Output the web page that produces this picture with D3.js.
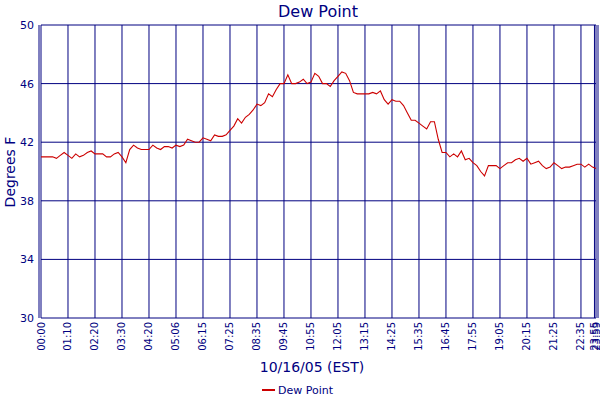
<!DOCTYPE html>
<html><head><meta charset="utf-8">
<script src="https://cdn.jsdelivr.net/npm/d3@7"></script>
<style>body{margin:0;background:#fff}</style>
</head><body><svg width="600" height="400"></svg>
<script>
// dew point readings every 10 minutes (deg F), last one at 23:59
var dewPoint = [
  41.0,41.0,41.0,41.0,40.9,41.1, 41.3,41.1,40.9,41.2,41.0,41.1,
  41.3,41.4,41.2,41.2,41.2,41.0, 41.0,41.2,41.3,41.0,40.6,41.5,
  41.8,41.6,41.5,41.5,41.5,41.8, 41.6,41.5,41.7,41.7,41.6,41.8,
  41.7,41.8,42.2,42.1,42.0,42.0, 42.3,42.2,42.1,42.5,42.4,42.4,
  42.5,42.8,43.1,43.6,43.3,43.7, 43.9,44.2,44.6,44.5,44.7,45.3,
  45.1,45.6,46.0,46.0,46.6,46.0, 46.0,46.1,46.3,46.0,46.1,46.7,
  46.5,46.0,46.0,45.8,46.2,46.5, 46.8,46.7,46.2,45.4,45.3,45.3,
  45.3,45.3,45.4,45.3,45.5,44.9, 44.6,44.9,44.8,44.8,44.5,44.0,
  43.5,43.5,43.3,43.1,42.9,43.4, 43.4,42.2,41.3,41.3,41.0,41.2,
  41.0,41.4,40.8,40.9,40.6,40.4, 40.0,39.7,40.4,40.4,40.4,40.2,
  40.4,40.6,40.6,40.8,40.9,40.7, 40.9,40.5,40.6,40.7,40.4,40.2,
  40.3,40.6,40.4,40.2,40.3,40.3, 40.4,40.5,40.5,40.3,40.5,40.3,
  40.2
];
var minutes = dewPoint.map((d, i) => i < 144 ? i * 10 : 1439);
var xTicks = [0,70,140,210,280,350,420,490,560,630,700,770,840,910,980,1050,1120,1190,1260,1330,1400,1435,1439];
var xLabels = ["00:00","01:10","02:20","03:30","04:20","05:06","06:15","07:25","08:35","09:45","10:55",
  "12:05","13:15","14:25","15:35","16:45","17:55","19:05","20:15","21:25","22:35","23:55","23:59"];
var yTicks = [30,34,38,42,46,50];

var navy = "#000080";
var font = "DejaVu Sans";
var svg = d3.select("svg");

var x = d3.scaleLinear().domain([0, 1439]).range([41, 596]);
var y = d3.scaleLinear().domain([30, 50]).range([318, 25]);

// grid
svg.append("g").selectAll("line").data(xTicks).join("line")
    .attr("x1", d => x(d)).attr("x2", d => x(d))
    .attr("y1", y(50)).attr("y2", y(30))
    .attr("stroke", navy).attr("stroke-width", 1);
svg.append("g").selectAll("line").data(yTicks).join("line")
    .attr("x1", x(0)).attr("x2", x(1439))
    .attr("y1", d => y(d)).attr("y2", d => y(d))
    .attr("stroke", navy).attr("stroke-width", 1);
svg.append("line").attr("x1", x(0) - 2).attr("x2", x(0) - 2)
    .attr("y1", y(50)).attr("y2", y(30)).attr("stroke", navy);
svg.append("line").attr("x1", x(1439) + 2).attr("x2", x(1439) + 2)
    .attr("y1", y(50)).attr("y2", y(30)).attr("stroke", navy);

// y labels
svg.append("g").selectAll("text").data(yTicks).join("text")
    .attr("x", 34).attr("y", d => y(d) + 4)
    .attr("text-anchor", "end").attr("font-family", font).attr("font-size", 11)
    .attr("fill", navy).text(d => d);

// x labels, rotated
svg.append("g").selectAll("text").data(xTicks).join("text")
    .attr("transform", d => "translate(" + (x(d) + 3.5) + ",322) rotate(-90)")
    .attr("text-anchor", "end").attr("font-family", font).attr("font-size", 10)
    .attr("fill", navy).text((d, i) => xLabels[i]);

// line
var line = d3.line().x((d, i) => x(minutes[i])).y(d => y(d));
svg.append("path").datum(dewPoint).attr("d", line)
    .attr("fill", "none").attr("stroke", "#cc0000").attr("stroke-width", 1.1);

// titles
svg.append("text").attr("x", 318).attr("y", 17).attr("text-anchor", "middle")
    .attr("font-family", font).attr("font-size", 16).attr("fill", navy).text("Dew Point");
svg.append("text").attr("transform", "translate(15,172) rotate(-90)").attr("text-anchor", "middle")
    .attr("font-family", font).attr("font-size", 14).attr("fill", navy).text("Degrees F");
svg.append("text").attr("x", 312).attr("y", 372).attr("text-anchor", "middle")
    .attr("font-family", font).attr("font-size", 14).attr("fill", navy).text("10/16/05 (EST)");

// legend
svg.append("line").attr("x1", 262).attr("x2", 275).attr("y1", 390).attr("y2", 390)
    .attr("stroke", "#cc0000").attr("stroke-width", 2);
svg.append("text").attr("x", 278).attr("y", 394).attr("font-family", font)
    .attr("font-size", 11).attr("fill", navy).text("Dew Point");
</script></body></html>
